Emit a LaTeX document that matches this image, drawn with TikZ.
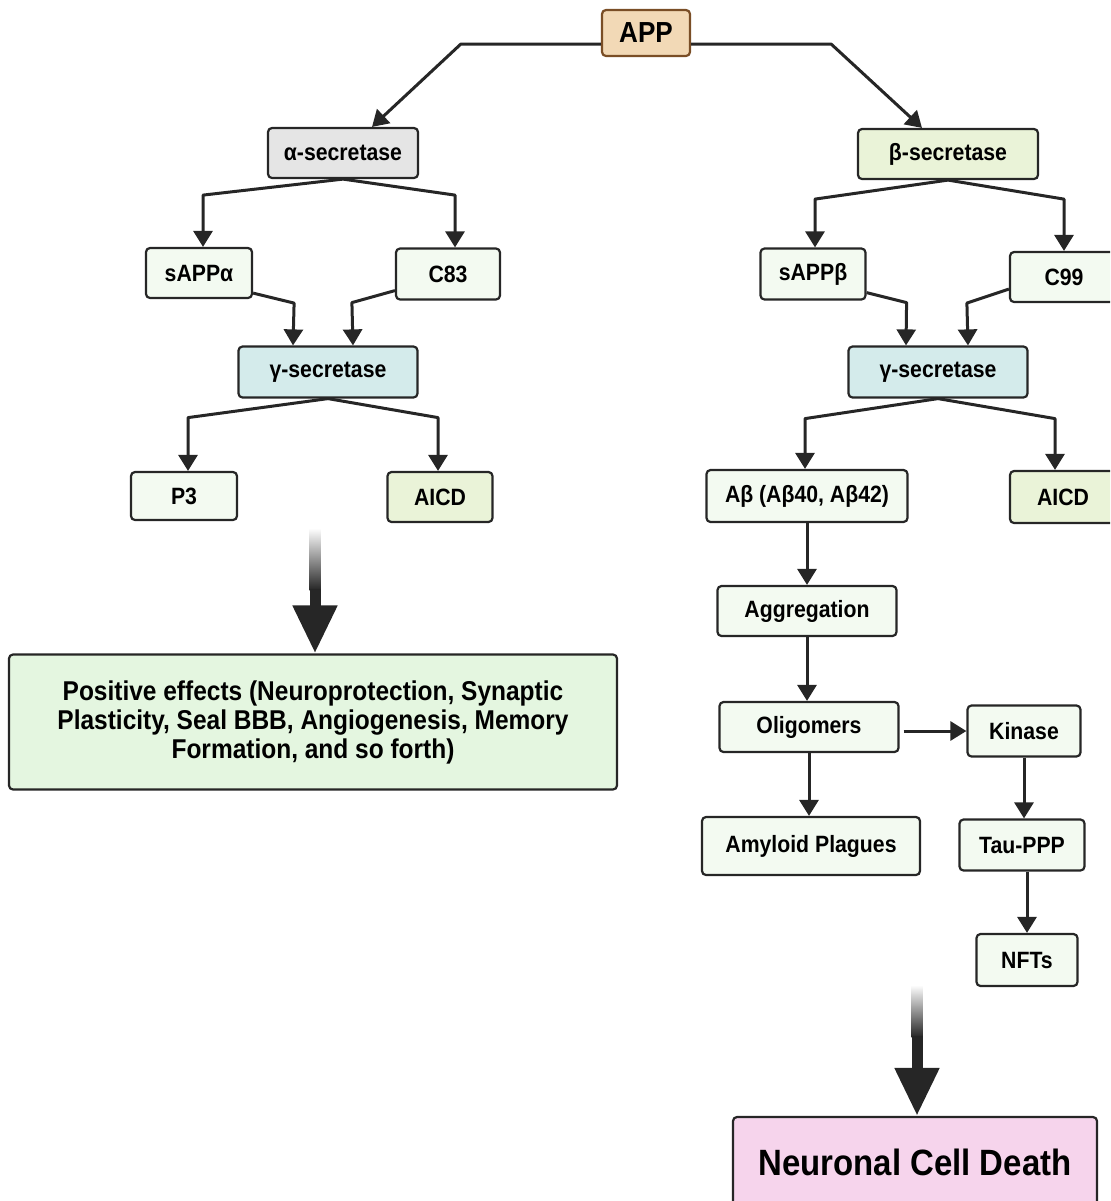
\documentclass[tikz,border=0pt]{standalone}
\usepackage{fontspec}
\setmainfont{Liberation Sans}[FakeStretch=0.9]
\usetikzlibrary{positioning}
\usetikzlibrary{arrows.meta}
\usetikzlibrary{calc}
\definecolor{ink}{HTML}{262626}
\definecolor{app-fill}{HTML}{F2D9B6}
\definecolor{app-edge}{HTML}{7A4E26}
\definecolor{alpha-fill}{HTML}{E5E5E5}
\definecolor{beta-fill}{HTML}{EAF3D8}
\definecolor{gamma-fill}{HTML}{D4EBEB}
\definecolor{pale}{HTML}{F3FAF1}
\definecolor{good}{HTML}{E4F6E0}
\definecolor{death}{HTML}{F6D4EC}
\tikzset{
  stage/.style 2 args={
    minimum width=#1,
    minimum height=#2},
}
\begin{document}
\begin{tikzpicture}[
  x=0.5pt, y=-0.5pt,
  box/.style={draw=ink, fill=pale, rounded corners=2pt, line width=1.1pt, inner sep=0pt, align=center, font=\bfseries\fontsize{11.8}{13}\selectfont},
  link/.style={draw=ink, line width=1.5pt, line join=round, -{Triangle[length=8pt, width=9.5pt]}},
  flow/.style={draw=ink, line width=5.5pt, -{Triangle[length=24pt, width=21pt]}}
]
\clip (0,0) rectangle (1110,1201);

% Top
\node[box, stage={44pt}{23pt}, fill=app-fill, draw=app-edge, font=\bfseries\fontsize{14.5}{16}\selectfont] (app) at (646,33) {APP};

% Alpha branch
\node[box, stage={75pt}{25pt}, fill=alpha-fill] (alpha) at (343,153) {α-secretase};
\node[box, stage={53pt}{25pt}] (sappa) at (199,273) {sAPPα};
\node[box, stage={52pt}{25.5pt}] (c83) at (448,274) {C83};
\node[box, stage={89.5pt}{25.5pt}, fill=gamma-fill] (gammaL) at (328,372) {γ-secretase};
\node[box, stage={53pt}{24pt}] (p3) at (184,496) {P3};
\node[box, stage={52.5pt}{25pt}, fill=beta-fill] (aicdL) at (440,497) {AICD};
\node[box, stage={304pt}{67.5pt}, fill=good, font=\bfseries\fontsize{13.6}{14.5}\selectfont] (effects) at (313,722) {%
Positive effects (Neuroprotection, Synaptic\\Plasticity, Seal BBB, Angiogenesis, Memory\\Formation, and so forth)};

% Beta branch
\node[box, stage={90pt}{25pt}, fill=beta-fill] (beta) at (948,154) {β-secretase};
\node[box, stage={52.5pt}{25.5pt}] (sappb) at (813,274) {sAPPβ};
\node[box, stage={54pt}{25pt}] (c99) at (1064,277) {C99};
\node[box, stage={89.5pt}{25.5pt}, fill=gamma-fill] (gammaR) at (938,372) {γ-secretase};
\node[box, stage={100.5pt}{26pt}] (abeta) at (807,496) {Aβ (Aβ40, Aβ42)};
\node[box, stage={53pt}{26pt}, fill=beta-fill] (aicdR) at (1063,497) {AICD};
\node[box, stage={89.5pt}{25pt}] (agg) at (807,611) {Aggregation};
\node[box, stage={89.5pt}{25pt}] (olig) at (809,727) {Oligomers};
\node[box, stage={56.5pt}{25.5pt}] (kinase) at (1024,731) {Kinase};
\node[box, stage={109pt}{29pt}] (amyloid) at (811,846) {Amyloid Plagues};
\node[box, stage={62.5pt}{25.5pt}] (tau) at (1022,845) {Tau-PPP};
\node[box, stage={50.5pt}{26pt}] (nfts) at (1027,960) {NFTs};
\node[box, stage={182pt}{45pt}, fill=death, font=\bfseries\fontsize{18.3}{21}\selectfont] (death) at (915,1162) {Neuronal Cell Death};

% APP split
\draw[link] ([yshift=-5.5pt]app.west) -- ++(-140,0) -- ([xshift=14.5pt]alpha.north);
\draw[link] ([yshift=-5.5pt]app.east) -- ++(140,0) -- ([xshift=-13pt]beta.north);

% Alpha edges
\draw[link] (alpha.south) -- ++(-140,16) -- ([xshift=2pt]sappa.north);
\draw[link] (alpha.south) -- ++(112,16) -- ([xshift=3.5pt]c83.north);
\draw[link] ([yshift=3pt]sappa.south east) -- ++(41,10) -- ([xshift=-17.5pt]gammaL.north);
\draw[link] ([yshift=5pt]c83.south west) -- ++(-43,12) -- ([xshift=12.5pt]gammaL.north);
\draw[link] (gammaL.south) -- ++(-140,19) -- ([xshift=2pt]p3.north);
\draw[link] (gammaL.south) -- ++(110,19) -- ([xshift=-1pt]aicdL.north);

% Beta edges
\draw[link] (beta.south) -- ++(-133,19) -- ([xshift=1pt]sappb.north);
\draw[link] (beta.south) -- ++(116,19) -- (c99.north);
\draw[link] ([yshift=4pt]sappb.south east) -- ++(40,10) -- ([xshift=-16pt]gammaR.north);
\draw[link] ([yshift=7pt]c99.south west) -- ++(-42,14) -- ([xshift=15pt]gammaR.north);
\draw[link] (gammaR.south) -- ++(-133,20) -- ([xshift=-1pt]abeta.north);
\draw[link] (gammaR.south) -- ++(117,20) -- ([xshift=-4pt]aicdR.north);
\draw[link] (abeta.south) -- (abeta.south |- agg.north);
\draw[link] (agg.south) -- (agg.south |- olig.north);
\draw[link] (olig.south) -- (olig.south |- amyloid.north);
\draw[link] ([xshift=2pt, yshift=-2pt]olig.east) -- ([yshift=-2pt]olig.east -| kinase.west);
\draw[link] (kinase.south) -- (kinase.south |- tau.north);
\draw[link] (nfts.north |- tau.south) -- (nfts.north);

% Outcome arrows
\coordinate (goodsrc) at (315,528);
\shade[top color=white, bottom color=ink] ($(goodsrc)+(-5.5,0)$) rectangle ($(goodsrc)+(5.5,62)$);
\draw[flow] ($(goodsrc)+(0,61)$) -- (goodsrc |- effects.north);
\coordinate (deathsrc) at (917,985);
\shade[top color=white, bottom color=ink] ($(deathsrc)+(-5.5,0)$) rectangle ($(deathsrc)+(5.5,52)$);
\draw[flow] ($(deathsrc)+(0,51)$) -- (deathsrc |- death.north);
\end{tikzpicture}
\end{document}
